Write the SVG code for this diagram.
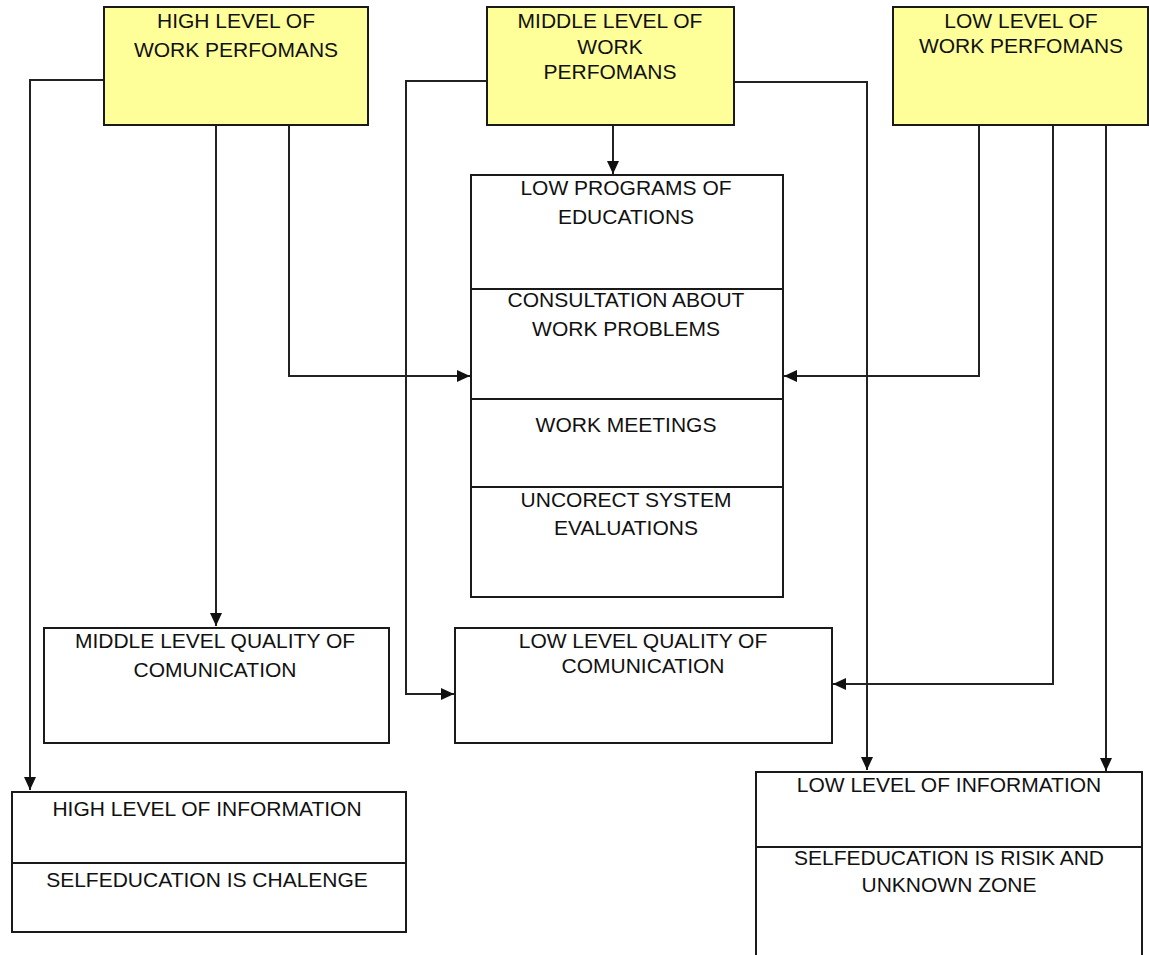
<svg xmlns="http://www.w3.org/2000/svg" width="1149" height="955" viewBox="0 0 1149 955">
<style>
.yb{fill:#FFFF99;stroke:#1a1a1a;stroke-width:2}
.wb{fill:#ffffff;stroke:#1a1a1a;stroke-width:2}
.dv{stroke:#1a1a1a;stroke-width:2}
.t{font-family:"Liberation Sans",Arial,sans-serif;font-size:21px;fill:#111;text-anchor:middle}
.c{fill:none;stroke:#222;stroke-width:2}
</style>
<defs>
<marker id="ah" markerUnits="userSpaceOnUse" markerWidth="14" markerHeight="12" refX="13" refY="6" orient="auto">
<path d="M0,0 L13,6 L0,12 z" fill="#111"/>
</marker>
</defs>
<rect width="1149" height="955" fill="#ffffff"/>
<g id="connectors">
<path class="c" d="M104,80 H30 V790" marker-end="url(#ah)"/>
<path class="c" d="M216,125 V626" marker-end="url(#ah)"/>
<path class="c" d="M289,125 V376 H470" marker-end="url(#ah)"/>
<path class="c" d="M613,125 V174" marker-end="url(#ah)"/>
<path class="c" d="M487,81 H406 V694 H454" marker-end="url(#ah)"/>
<path class="c" d="M734,82 H867 V770" marker-end="url(#ah)"/>
<path class="c" d="M979,125 V376 H784" marker-end="url(#ah)"/>
<path class="c" d="M1053,125 V684 H833" marker-end="url(#ah)"/>
<path class="c" d="M1106,125 V771" marker-end="url(#ah)"/>
</g>
<g id="high-work">
<rect class="yb" x="104" y="7" width="264" height="118"/>
<text class="t" x="236" y="28">HIGH LEVEL OF</text>
<text class="t" x="236" y="57">WORK PERFOMANS</text>
</g>
<g id="middle-work">
<rect class="yb" x="487" y="7" width="247" height="118"/>
<text class="t" x="610" y="28">MIDDLE LEVEL OF</text>
<text class="t" x="610" y="54">WORK</text>
<text class="t" x="610" y="79">PERFOMANS</text>
</g>
<g id="low-work">
<rect class="yb" x="893" y="7" width="255" height="118"/>
<text class="t" x="1021" y="28">LOW LEVEL OF</text>
<text class="t" x="1021" y="53">WORK PERFOMANS</text>
</g>
<g id="central">
<rect class="wb" x="471" y="175" width="312" height="422"/>
<line class="dv" x1="471" y1="289" x2="783" y2="289"/>
<line class="dv" x1="471" y1="399" x2="783" y2="399"/>
<line class="dv" x1="471" y1="487" x2="783" y2="487"/>
<text class="t" x="626" y="195">LOW PROGRAMS OF</text>
<text class="t" x="626" y="224">EDUCATIONS</text>
<text class="t" x="626" y="307">CONSULTATION ABOUT</text>
<text class="t" x="626" y="336">WORK PROBLEMS</text>
<text class="t" x="626" y="432">WORK MEETINGS</text>
<text class="t" x="626" y="507">UNCORECT SYSTEM</text>
<text class="t" x="626" y="535">EVALUATIONS</text>
</g>
<g id="middle-quality">
<rect class="wb" x="44" y="628" width="345" height="115"/>
<text class="t" x="215" y="648">MIDDLE LEVEL QUALITY OF</text>
<text class="t" x="215" y="677">COMUNICATION</text>
</g>
<g id="low-quality">
<rect class="wb" x="455" y="628" width="377" height="115"/>
<text class="t" x="643" y="648">LOW LEVEL QUALITY OF</text>
<text class="t" x="643" y="673">COMUNICATION</text>
</g>
<g id="high-info">
<rect class="wb" x="12" y="792" width="394" height="140"/>
<line class="dv" x1="12" y1="863" x2="406" y2="863"/>
<text class="t" x="207" y="816">HIGH LEVEL OF INFORMATION</text>
<text class="t" x="207" y="887">SELFEDUCATION IS CHALENGE</text>
</g>
<g id="low-info">
<rect class="wb" x="756" y="772" width="386" height="200"/>
<line class="dv" x1="756" y1="847" x2="1142" y2="847"/>
<text class="t" x="949" y="792">LOW LEVEL OF INFORMATION</text>
<text class="t" x="949" y="865">SELFEDUCATION IS RISIK AND</text>
<text class="t" x="949" y="892">UNKNOWN ZONE</text>
</g>
</svg>
